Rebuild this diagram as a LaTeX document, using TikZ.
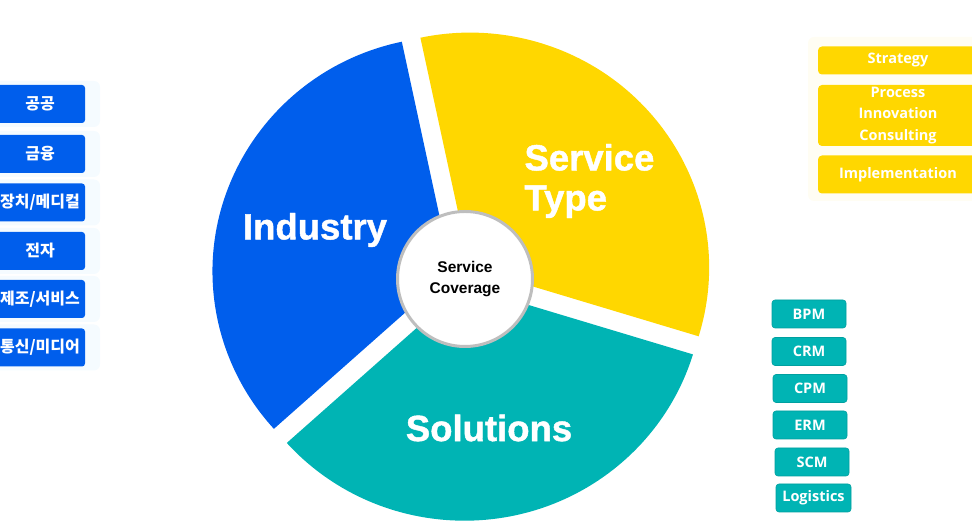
\documentclass[tikz,border=0pt]{standalone}
\usepackage{fontspec}
\setmainfont{Liberation Sans}
\newfontfamily\heavyfont{Liberation Sans Bold}[FakeBold=1.2]
\newfontfamily\boxfont{Open Sans}
\newfontfamily\krfont{Noto Sans CJK KR}
\definecolor{segblue}{RGB}{0,94,236}
\definecolor{segyellow}{RGB}{255,215,0}
\definecolor{segteal}{RGB}{0,180,180}
\definecolor{tealedge}{RGB}{0,160,160}
\definecolor{ringgray}{RGB}{190,190,190}
\definecolor{glowblue}{RGB}{245,251,255}
\definecolor{glowyellow}{RGB}{255,253,243}
\tikzset{
  biglabel/.style={text=white,font=\heavyfont\fontsize{36.5}{40}\selectfont},
  indbox/.style={fill=segblue,rounded corners=3pt,minimum width=90pt,minimum height=38pt,
    text=white,font=\krfont\fontsize{16}{19}\selectfont\bfseries,inner sep=0pt},
  typebox/.style={fill=segyellow,rounded corners=4pt,minimum width=160pt,
    text=white,font=\boxfont\fontsize{14.5}{21.5}\selectfont\bfseries,inner sep=0pt,align=center},
  solbox/.style={fill=segteal,draw=tealedge,line width=0.6pt,rounded corners=3pt,minimum height=28pt,
    text=white,font=\boxfont\fontsize{14.5}{17}\selectfont\bfseries,inner sep=0pt},
}
\begin{document}
\begin{tikzpicture}[x=1pt,y=1pt]
\useasboundingbox (0,0) rectangle (972,521);
% pie segments
\fill[segyellow] (470.1,253.4) -- +(-17:239pt and 235pt)
  arc[start angle=-17,end angle=102,x radius=239pt,y radius=235pt] -- cycle;
\fill[segblue] (451.5,249.4) -- +(102:239pt and 235pt)
  arc[start angle=102,end angle=222,x radius=239pt,y radius=235pt] -- cycle;
\fill[segteal] (464.4,235.3) -- +(222:239pt and 235pt)
  arc[start angle=222,end angle=343,x radius=239pt,y radius=235pt] -- cycle;
% centre
\node[circle,fill=white,draw=ringgray,line width=3pt,minimum size=135pt,inner sep=0pt,align=center,
  font=\fontsize{15.5}{21}\selectfont\bfseries] (core) at (465,242) {Service\\Coverage};
% labels
\node[biglabel] (ind) at (315,291) {Industry};
\node[biglabel,anchor=west,align=left] (stype) at (521,340) {Service\\Type};
\node[biglabel] (sol) at (489,93) {Solutions};
% industry boxes
\foreach \n/\y/\t in {i1/417/{공공}, i2/367/{금융}, i3/318.5/{장치/메디컬}, i4/270/{전자}, i5/222/{제조/서비스}, i6/173.5/{통신/미디어}}{
  \fill[glowblue,rounded corners=6pt] (-10,\y-23) rectangle (100,\y+23);
  \node[indbox] (\n) at (40,\y) {\t};
}
% service type boxes
\fill[glowyellow,rounded corners=6pt] (808,320) rectangle (980,484);
\node[typebox,minimum height=28pt] (t1) at (898,460.5) {Strategy};
\node[typebox,minimum height=61pt] (t2) at (898,405.5) {Process\\Innovation\\Consulting};
\node[typebox,minimum height=38pt] (t3) at (898,346.5) {Implementation};
% solution boxes
\node[solbox,minimum width=74pt] (s1) at (809,207) {BPM};
\node[solbox,minimum width=74pt] (s2) at (809,169.5) {CRM};
\node[solbox,minimum width=74pt] (s3) at (810,132.5) {CPM};
\node[solbox,minimum width=74pt] (s4) at (810,96) {ERM};
\node[solbox,minimum width=74pt] (s5) at (812,59) {SCM};
\node[solbox,minimum width=75pt] (s6) at (813.5,23) {Logistics};
\end{tikzpicture}
\end{document}
